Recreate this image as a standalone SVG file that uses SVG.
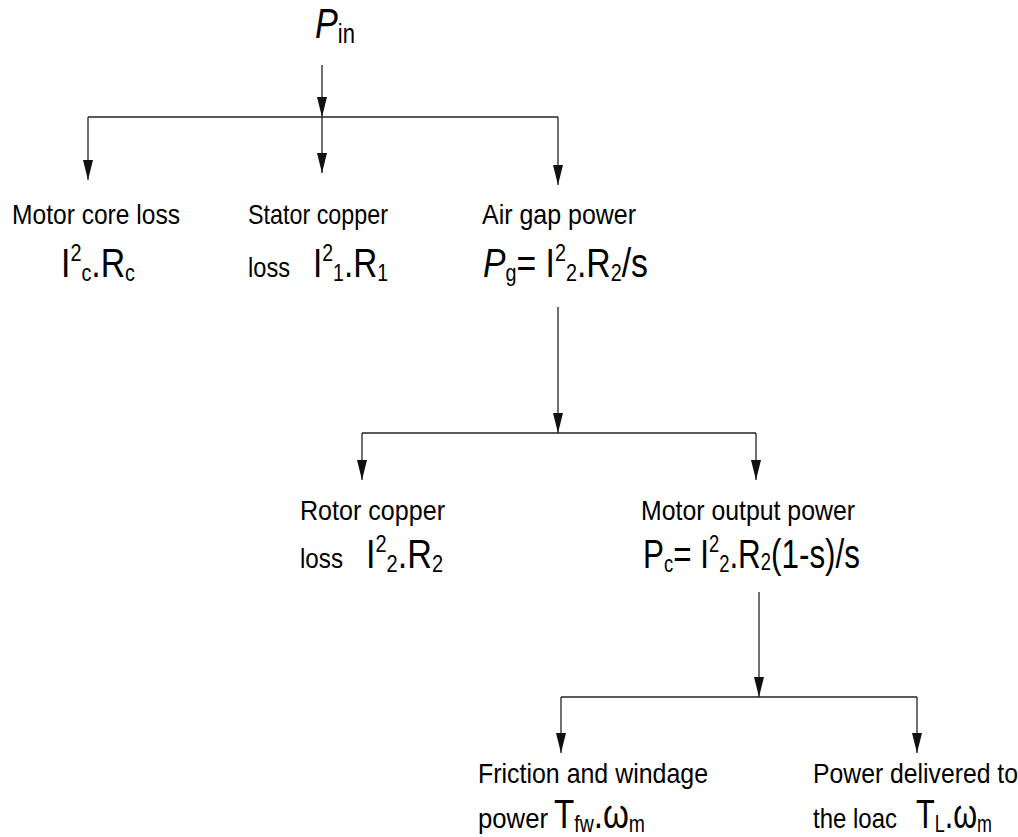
<svg xmlns="http://www.w3.org/2000/svg" width="1018" height="837" viewBox="0 0 1018 837">
<defs>
<marker id="ah" markerUnits="userSpaceOnUse" viewBox="0 0 20 10" markerWidth="20" markerHeight="10" refX="20" refY="5" orient="auto">
<path d="M0,0 L20,5 L0,10 Z" fill="#111"/>
</marker>
</defs>
<style>
text{font-family:"Liberation Sans",Arial,sans-serif;fill:#000}
.lb{font-size:28px}
.fm{font-size:41px}
.s{font-size:24px}
.it{font-style:italic}
.c line{stroke:#222;stroke-width:1.3;fill:none}
.a{marker-end:url(#ah)}
</style>
<rect width="1018" height="837" fill="#fff"/>
<g id="connectors" class="c">
<line class="a" x1="322" y1="65" x2="322" y2="117"/>
<line x1="88" y1="117" x2="558" y2="117"/>
<line class="a" x1="88" y1="117" x2="88" y2="180"/>
<line class="a" x1="322" y1="117" x2="322" y2="173"/>
<line class="a" x1="558" y1="117" x2="558" y2="185"/>
<line class="a" x1="558" y1="307" x2="558" y2="433"/>
<line x1="362" y1="433" x2="756" y2="433"/>
<line class="a" x1="362" y1="433" x2="362" y2="480"/>
<line class="a" x1="756" y1="433" x2="756" y2="480"/>
<line class="a" x1="759" y1="592" x2="759" y2="697"/>
<line x1="561" y1="697" x2="917" y2="697"/>
<line class="a" x1="561" y1="697" x2="561" y2="753"/>
<line class="a" x1="917" y1="697" x2="917" y2="753"/>
</g>
<g id="node-pin">
<text x="315" y="38" textLength="40" lengthAdjust="spacingAndGlyphs"><tspan class="it" font-size="42">P</tspan><tspan font-size="27" dy="5">in</tspan></text>
</g>
<g id="node-core">
<text class="lb" x="12" y="224" textLength="168" lengthAdjust="spacingAndGlyphs">Motor core loss</text>
<text class="fm" x="61" y="277" textLength="74" lengthAdjust="spacingAndGlyphs">I<tspan class="s" dy="-16">2</tspan><tspan class="s" dy="20">c</tspan><tspan dy="-4">.R</tspan><tspan class="s" dy="4">c</tspan></text>
</g>
<g id="node-stator">
<text class="lb" x="248" y="224" textLength="140" lengthAdjust="spacingAndGlyphs">Stator copper</text>
<text class="lb" x="248" y="277" textLength="42" lengthAdjust="spacingAndGlyphs">loss</text>
<text class="fm" x="313" y="277" textLength="75" lengthAdjust="spacingAndGlyphs">I<tspan class="s" dy="-16">2</tspan><tspan class="s" dy="20">1</tspan><tspan dy="-4">.R</tspan><tspan class="s" dy="4">1</tspan></text>
</g>
<g id="node-airgap">
<text class="lb" x="482" y="224" textLength="154" lengthAdjust="spacingAndGlyphs">Air gap power</text>
<text class="fm" x="483" y="277" textLength="165" lengthAdjust="spacingAndGlyphs"><tspan class="it">P</tspan><tspan class="s" dy="4">g</tspan><tspan dy="-4">= I</tspan><tspan class="s" dy="-16">2</tspan><tspan class="s" dy="20">2</tspan><tspan dy="-4">.R</tspan><tspan class="s" dy="4">2</tspan><tspan dy="-4">/s</tspan></text>
</g>
<g id="node-rotor">
<text class="lb" x="300" y="520" textLength="145" lengthAdjust="spacingAndGlyphs">Rotor copper</text>
<text class="lb" x="300" y="568" textLength="43" lengthAdjust="spacingAndGlyphs">loss</text>
<text class="fm" x="366" y="568" textLength="77" lengthAdjust="spacingAndGlyphs">I<tspan class="s" dy="-16">2</tspan><tspan class="s" dy="20">2</tspan><tspan dy="-4">.R</tspan><tspan class="s" dy="4">2</tspan></text>
</g>
<g id="node-output">
<text class="lb" x="641" y="520" textLength="214" lengthAdjust="spacingAndGlyphs">Motor output power</text>
<text class="fm" x="643" y="568" textLength="217" lengthAdjust="spacingAndGlyphs">P<tspan class="s" dy="4">c</tspan><tspan dy="-4">= I</tspan><tspan class="s" dy="-16">2</tspan><tspan class="s" dy="20">2</tspan><tspan dy="-4">.R</tspan><tspan class="s" dy="2">2</tspan><tspan dy="-2">(1-s)/s</tspan></text>
</g>
<g id="node-friction">
<text class="lb" x="478" y="783" textLength="230" lengthAdjust="spacingAndGlyphs">Friction and windage</text>
<text class="lb" x="478" y="828" textLength="70" lengthAdjust="spacingAndGlyphs">power</text>
<text class="fm" x="554" y="828" textLength="91" lengthAdjust="spacingAndGlyphs">T<tspan class="s" dy="4">fw</tspan><tspan dy="-4">.ω</tspan><tspan class="s" dy="4">m</tspan></text>
</g>
<g id="node-load">
<text class="lb" x="813" y="783" textLength="205" lengthAdjust="spacingAndGlyphs">Power delivered to</text>
<text class="lb" x="813" y="828" textLength="84" lengthAdjust="spacingAndGlyphs">the loac</text>
<text class="fm" x="916" y="828" textLength="76" lengthAdjust="spacingAndGlyphs">T<tspan class="s" dy="4">L</tspan><tspan dy="-4">.ω</tspan><tspan class="s" dy="4">m</tspan></text>
</g>
</svg>
